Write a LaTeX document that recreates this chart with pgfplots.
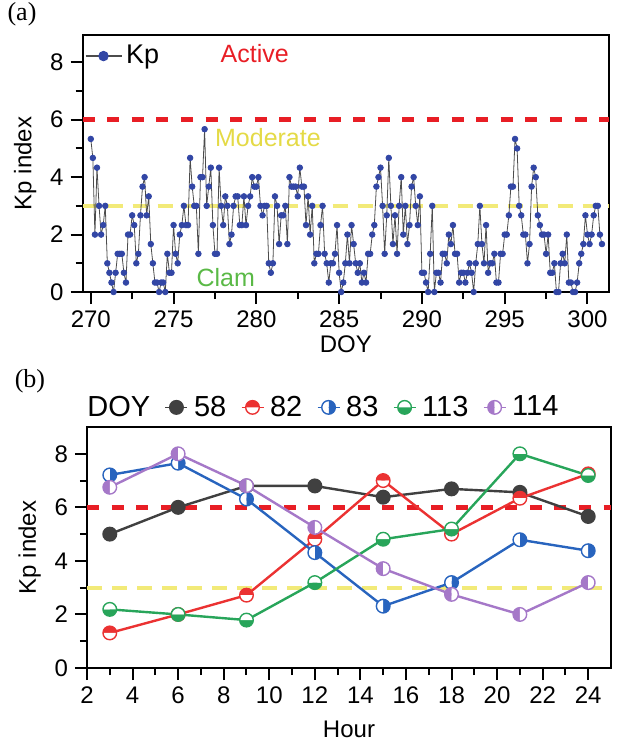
\documentclass[border=0pt]{standalone}
\usepackage{pgfplots}
\pgfplotsset{compat=1.18}
\usepackage{fontspec}
\setmainfont{Liberation Sans}
\newfontfamily\seriffont{Liberation Serif}
\usetikzlibrary{plotmarks}
\definecolor{kpblue}{RGB}{50,70,165}
\definecolor{actred}{RGB}{232,30,37}
\definecolor{modyel}{RGB}{242,234,120}
\definecolor{modtext}{RGB}{228,218,70}
\definecolor{clamgreen}{RGB}{90,185,70}
\definecolor{c58}{RGB}{64,64,64}
\definecolor{c82}{RGB}{235,50,50}
\definecolor{c83}{RGB}{40,100,190}
\definecolor{c113}{RGB}{40,165,90}
\definecolor{c114}{RGB}{165,120,200}

\pgfdeclareplotmark{halfc}{%
  \pgfpathmoveto{\pgfqpoint{\pgfplotmarksize}{0pt}}%
  \pgfpatharc{0}{-180}{\pgfplotmarksize}%
  \pgfpathclose
  \pgfusepathqfill
  \begin{pgfscope}%
  \pgfsetfillcolor{white}%
  \pgfpathmoveto{\pgfqpoint{\pgfplotmarksize}{0pt}}%
  \pgfpatharc{0}{180}{\pgfplotmarksize}%
  \pgfpathclose
  \pgfusepathqfill
  \end{pgfscope}%
  \pgfpathcircle{\pgfpointorigin}{\pgfplotmarksize}%
  \pgfusepathqstroke
}

\pgfplotsset{
  myaxis/.style={
    scale only axis,
    tick align=outside, xtick pos=left, ytick pos=left,
    major tick length=6pt, minor tick length=3.5pt,
    every tick/.style={black, line width=1pt},
    axis line style={line width=1pt},
    tick label style={font=\fontsize{12}{14}\selectfont},
    label style={font=\fontsize{12}{14}\selectfont},
    /pgf/number format/assume math mode=true,
    /pgf/number format/1000 sep={},
  }
}

\begin{document}
\begin{tikzpicture}
\path[use as bounding box] (0,0) rectangle (309.5pt,-372pt);
\node[font=\seriffont\fontsize{13}{15}\selectfont] at (11pt,-7pt) {(a)};
\node[font=\seriffont\fontsize{13}{15}\selectfont] at (15pt,-190.5pt) {(b)};

\begin{axis}[myaxis,
  at={(41.25pt,-146pt)}, anchor=south west,
  width=263.25pt, height=128.5pt,
  xmin=269.5, xmax=301.3, ymin=0, ymax=8.95,
  xtick={270,275,...,300}, minor x tick num=1,
  ytick={0,2,4,6,8}, minor y tick num=1,
  xlabel={DOY}, ylabel={Kp index},
  xlabel style={yshift=3pt},
  legend style={at={(0.0,0.985)}, anchor=north west, draw=none, fill=none,
    font=\fontsize{13.5}{15}\selectfont, inner sep=1pt},
  legend image code/.code={\draw[black!70,line width=0.6pt] (-2pt,0pt) -- (16pt,0pt);
    \fill[kpblue] (7pt,0pt) circle (2.4pt);},
]
\addplot[actred, line width=2.5pt, dash pattern=on 6pt off 6.3pt, forget plot] coordinates {(269.5,6) (301.3,6)};
\addplot[modyel, line width=2pt, dash pattern=on 7.5pt off 5pt, forget plot] coordinates {(269.5,3) (301.3,3)};
\addplot[black!70, line width=0.4pt, mark=*, mark size=1.4pt, mark options={kpblue, fill=kpblue}] coordinates {
(270,5.33)(270.125,4.67)(270.25,2)(270.375,4.33)(270.5,3)(270.625,2)(270.75,2.33)(270.875,3)
(271,1)(271.125,0.67)(271.25,0.33)(271.375,0)(271.5,0.67)(271.625,1.33)(271.75,1.33)(271.875,1.33)
(272,0.67)(272.125,0.33)(272.25,2)(272.375,2)(272.5,2.67)(272.625,2.33)(272.75,1)(272.875,1.33)
(273,2.67)(273.125,3.67)(273.25,4)(273.375,2.67)(273.5,3.33)(273.625,1.67)(273.75,1)(273.875,0.33)
(274,0.33)(274.125,0)(274.25,0.33)(274.375,0.33)(274.5,0)(274.625,1.33)(274.75,0.67)(274.875,0.67)
(275,2.33)(275.125,1.33)(275.25,1)(275.375,2)(275.5,2.33)(275.625,3)(275.75,2.33)(275.875,2.33)
(276,4.67)(276.125,3.67)(276.25,3)(276.375,3)(276.5,1.33)(276.625,4)(276.75,4)(276.875,5.67)
(277,3)(277.125,3.67)(277.25,4.33)(277.375,2.33)(277.5,1.33)(277.625,1.33)(277.75,4.33)(277.875,3)
(278,2.33)(278.125,3.33)(278.25,3)(278.375,1.67)(278.5,2)(278.625,3)(278.75,3.33)(278.875,3.33)
(279,2.33)(279.125,2.33)(279.25,3.33)(279.375,2.33)(279.5,3)(279.625,3.33)(279.75,4)(279.875,3.67)
(280,3.67)(280.125,4)(280.25,3)(280.375,2.67)(280.5,3)(280.625,3)(280.75,1)(280.875,0.67)
(281,1)(281.125,3.33)(281.25,3)(281.375,1.67)(281.5,2.67)(281.625,2.67)(281.75,3)(281.875,1.67)
(282,4)(282.125,3.67)(282.25,3.67)(282.375,3.67)(282.5,3.33)(282.625,4.33)(282.75,3.67)(282.875,3.67)
(283,2.33)(283.125,3.33)(283.25,2)(283.375,3)(283.5,1)(283.625,1.33)(283.75,1.33)(283.875,2.33)
(284,3)(284.125,1.33)(284.25,1)(284.375,0.33)(284.5,1)(284.625,1)(284.75,1.33)(284.875,2.33)
(285,0.67)(285.125,0)(285.25,0.33)(285.375,1)(285.5,2)(285.625,1)(285.75,2.33)(285.875,1.67)
(286,1)(286.125,0.67)(286.25,1)(286.375,0.33)(286.5,0.67)(286.625,0.33)(286.75,1.33)(286.875,1.33)
(287,2)(287.125,2.33)(287.25,3.67)(287.375,4)(287.5,4.33)(287.625,3)(287.75,1.33)(287.875,2.67)
(288,4.67)(288.125,3)(288.25,1.67)(288.375,2.67)(288.5,1.33)(288.625,3)(288.75,4)(288.875,2)
(289,3)(289.125,1.67)(289.25,2.33)(289.375,3.67)(289.5,4)(289.625,3)(289.75,2.33)(289.875,3.33)
(290,0.67)(290.125,0.67)(290.25,0.33)(290.375,0)(290.5,1.33)(290.625,3)(290.75,0)(290.875,0.67)
(291,0.67)(291.125,0.33)(291.25,1.33)(291.375,1.33)(291.5,1)(291.625,2)(291.75,1.67)(291.875,2.33)
(292,1.33)(292.125,1.33)(292.25,0.33)(292.375,0.67)(292.5,0.67)(292.625,0.33)(292.75,0.67)(292.875,1)
(293,0.67)(293.125,0)(293.25,1)(293.375,1.67)(293.5,3)(293.625,1.67)(293.75,1)(293.875,2.33)
(294,0.67)(294.125,1)(294.25,1)(294.375,1.33)(294.5,0.33)(294.625,0.33)(294.75,1.33)(294.875,1.33)
(295,2)(295.125,2)(295.25,2.67)(295.375,3.67)(295.5,3.67)(295.625,5.33)(295.75,5)(295.875,3)
(296,2.67)(296.125,2)(296.25,2)(296.375,1)(296.5,1.67)(296.625,3.67)(296.75,4.33)(296.875,4)
(297,2.67)(297.125,2.33)(297.25,2)(297.375,2)(297.5,1.33)(297.625,2)(297.75,0.67)(297.875,0.67)
(298,1)(298.125,0)(298.25,0)(298.375,1)(298.5,1.33)(298.625,1)(298.75,2)(298.875,0.33)
(299,0.33)(299.125,0)(299.25,0)(299.375,0.33)(299.5,1)(299.625,1.33)(299.75,1.67)(299.875,2.67)
(300,2)(300.125,1.67)(300.25,2)(300.375,2.67)(300.5,3)(300.625,3)(300.75,2)(300.875,1.67)
};
\addlegendentry{Kp}
\node[text=actred, font=\fontsize{12.5}{14}\selectfont] at (axis cs:279.9,8.3) {Active};
\node[text=modtext, font=\fontsize{12.5}{14}\selectfont] at (axis cs:280.7,5.38) {Moderate};
\node[text=clamgreen, font=\fontsize{12.5}{14}\selectfont] at (axis cs:278.15,0.51) {Clam};
\end{axis}

\begin{axis}[myaxis,
  at={(43.5pt,-334pt)}, anchor=south west,
  width=262pt, height=120.5pt,
  xmin=2, xmax=25, ymin=0, ymax=9,
  xtick={2,4,...,24}, minor x tick num=1,
  ytick={0,2,4,6,8}, minor y tick num=1,
  xlabel={Hour}, ylabel={Kp index},
  xlabel style={yshift=-1.5pt},
  legend columns=6,
  legend style={at={(0,1.015)}, xshift=-3pt, anchor=south west, draw=none, fill=none,
    font=\fontsize{14.5}{16}\selectfont, inner sep=0pt,
    /tikz/every even column/.append style={column sep=5.3pt},
    /tikz/every odd column/.append style={column sep=1pt}},
  legend image code/.code={\draw[mark repeat=2, mark phase=2, line width=0.6pt] plot coordinates {(0pt,0pt) (5.5pt,0pt) (11pt,0pt)};},
]
\addplot[actred, line width=2.5pt, dash pattern=on 6pt off 6.3pt, forget plot] coordinates {(2,6) (25,6)};
\addplot[modyel, line width=2pt, dash pattern=on 7.5pt off 5pt, forget plot] coordinates {(2,3) (25,3)};
\addlegendimage{empty legend}
\addlegendentry{DOY}
\addplot[c58, line width=1.2pt, mark=*, mark size=3.4pt, mark options={fill=c58, line width=0.7pt}] coordinates {
(3,5.0)(6,6.0)(9,6.8)(12,6.8)(15,6.38)(18,6.69)(21,6.56)(24,5.66)};
\addlegendentry{58}
\addplot[c82, line width=1.2pt, mark=halfc, mark size=3.4pt, mark options={rotate=180, fill=c82, line width=0.7pt}] coordinates {
(3,1.31)(6,2.0)(9,2.72)(12,4.81)(15,7.0)(18,5.0)(21,6.34)(24,7.25)};
\addlegendentry{82}
\addplot[c83, line width=1.2pt, mark=halfc, mark size=3.4pt, mark options={rotate=90, fill=c83, line width=0.7pt}] coordinates {
(3,7.21)(6,7.65)(9,6.31)(12,4.31)(15,2.31)(18,3.19)(21,4.79)(24,4.38)};
\addlegendentry{83}
\addplot[c113, line width=1.2pt, mark=halfc, mark size=3.4pt, mark options={fill=c113, line width=0.7pt}] coordinates {
(3,2.19)(6,2.0)(9,1.79)(12,3.19)(15,4.81)(18,5.19)(21,8.0)(24,7.19)};
\addlegendentry{113}
\addplot[c114, line width=1.2pt, mark=halfc, mark size=3.4pt, mark options={rotate=-90, fill=c114, line width=0.7pt}] coordinates {
(3,6.75)(6,8.0)(9,6.81)(12,5.25)(15,3.71)(18,2.75)(21,2.0)(24,3.19)};
\addlegendentry{114}
\end{axis}
\end{tikzpicture}
\end{document}
